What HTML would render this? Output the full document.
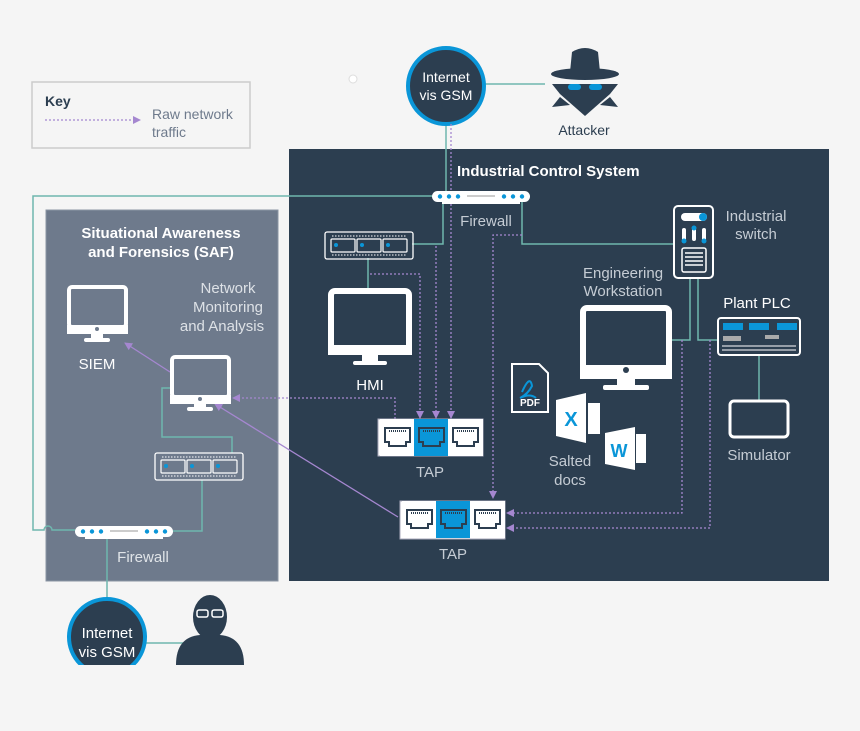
<!DOCTYPE html>
<html><head><meta charset="utf-8"><style>
html,body{margin:0;padding:0;background:#f5f5f5}
svg{display:block}
text{font-family:"Liberation Sans",sans-serif}
</style></head><body>
<svg width="860" height="731" viewBox="0 0 860 731" xmlns="http://www.w3.org/2000/svg">
<defs>
<marker id="ar" markerWidth="8" markerHeight="8" refX="7" refY="4" orient="auto" markerUnits="userSpaceOnUse">
<path d="M0,0 L8,4 L0,8 z" fill="#a587d0"/></marker>
<g id="sw">
<rect x="0" y="0" width="88" height="27" rx="2" fill="none" stroke="#fff" stroke-width="1.3"/>
<g fill="none" stroke="#fff" stroke-width="1.2">
<rect x="6" y="7" width="24" height="13" rx="1"/><rect x="32" y="7" width="24" height="13" rx="1"/><rect x="58" y="7" width="24" height="13" rx="1"/></g>
<g fill="#0a96d8"><circle cx="11" cy="13" r="2"/><circle cx="37" cy="13" r="2"/><circle cx="63" cy="13" r="2"/></g>
<g stroke="#fff" stroke-width="1" stroke-dasharray="1.5 1.5"><line x1="7" y1="4" x2="82" y2="4"/><line x1="7" y1="23" x2="82" y2="23"/></g>
</g>
<g id="fw">
<rect x="0" y="0" width="98" height="11" rx="5.5" fill="#fff"/>
<rect x="10" y="11" width="78" height="2" fill="#fff"/>
<g fill="#0a96d8"><circle cx="8" cy="5.5" r="2.2"/><circle cx="17" cy="5.5" r="2.2"/><circle cx="26" cy="5.5" r="2.2"/><circle cx="72" cy="5.5" r="2.2"/><circle cx="81" cy="5.5" r="2.2"/><circle cx="90" cy="5.5" r="2.2"/></g>
<line x1="35" y1="5" x2="63" y2="5" stroke="#bbb" stroke-width="1.5"/>
</g>
<g id="rj">
<rect x="0" y="0" width="35" height="37" fill="#fff"/>
<path d="M5,9 h25 v14 h-4 v4 h-17 v-4 h-4 z" fill="none" stroke="#2c3e50" stroke-width="2"/>
<line x1="9" y1="12" x2="26" y2="12" stroke="#2c3e50" stroke-width="2" stroke-dasharray="1 1"/>
</g>
<g id="rjb">
<rect x="0" y="0" width="35" height="37" fill="#0a96d8"/>
<path d="M5,9 h25 v14 h-4 v4 h-17 v-4 h-4 z" fill="none" stroke="#2c3e50" stroke-width="2"/>
<line x1="9" y1="12" x2="26" y2="12" stroke="#2c3e50" stroke-width="2" stroke-dasharray="1 1"/>
</g>
</defs>
<rect width="860" height="731" fill="#f5f5f5"/>

<!-- Key -->
<rect x="32" y="82" width="218" height="66" fill="none" stroke="#ccc" stroke-width="1.5"/>
<text x="45" y="106" font-size="14" font-weight="bold" fill="#2c3e50">Key</text>
<line x1="45" y1="120" x2="140" y2="120" stroke="#a587d0" stroke-width="1.3" stroke-dasharray="2 2" marker-end="url(#ar)"/>
<text x="152" y="119" font-size="14" fill="#6e7a8c">Raw network</text>
<text x="152" y="137" font-size="14" fill="#6e7a8c">traffic</text>
<circle cx="353" cy="79" r="4" fill="#fff" stroke="#ddd"/>

<!-- panels -->
<rect x="289" y="149" width="540" height="432" fill="#2c3e50"/>
<rect x="46" y="210" width="232" height="371" fill="#6e7a8c" stroke="#8a95a4"/>

<!-- top internet -->
<line x1="484" y1="84" x2="545" y2="84" stroke="#6fb7ae" stroke-width="1.5"/>
<line x1="446" y1="124" x2="446" y2="196" stroke="#6fb7ae" stroke-width="1.5"/>
<circle cx="446" cy="86" r="38" fill="#2c3e50" stroke="#0a96d8" stroke-width="4"/>
<text x="446" y="82" font-size="14" fill="#fff" text-anchor="middle">Internet</text>
<text x="446" y="100" font-size="14" fill="#fff" text-anchor="middle">vis GSM</text>
<!-- attacker -->
<g fill="#2c3e50">
<path d="M572,52 q13,-8 26,0 l2,20 h-30 z"/>
<ellipse cx="585" cy="74" rx="34" ry="6"/>
<path d="M552,84 h66 l-8,10 l-25,22 l-25,-22 z"/>
<path d="M560,97 l-8,10 l18,-2 z M610,97 l8,10 l-18,-2 z"/>
</g>
<g fill="#0a96d8"><rect x="568" y="84" width="13" height="6" rx="3"/><rect x="589" y="84" width="13" height="6" rx="3"/></g>
<text x="584" y="135" font-size="14" fill="#2c3e50" text-anchor="middle">Attacker</text>

<!-- ICS title -->
<text x="457" y="176" font-size="15" font-weight="bold" fill="#fff">Industrial Control System</text>

<!-- teal lines -->
<g stroke="#6fb7ae" stroke-width="1.5" fill="none">
<path d="M432,196 H33 V530 H44 a4,4 0 0 1 8,0 H75"/>
<path d="M443,200 V244 H412"/>
<path d="M368,258 V288"/>
<path d="M522,200 V244 H674"/>
<path d="M672,340 H690 V278"/>
<path d="M698,278 V340 H718"/>
<path d="M759,355 V400"/>
<path d="M170,388 H162 V437 H232 V453"/>
<path d="M202,480 V531 H173"/>
<path d="M107,537 V600"/>
<path d="M145,643 H185"/>
</g>

<!-- purple dashed -->
<g stroke="#a587d0" stroke-width="1.3" fill="none" stroke-dasharray="2 2">
<path d="M451,124 V418" marker-end="url(#ar)"/>
<path d="M436,246 V418" marker-end="url(#ar)"/>
<path d="M370,274 H420 V418" marker-end="url(#ar)"/>
<path d="M522,235 H493 V498" marker-end="url(#ar)"/>
<path d="M682,340 V513 H507" marker-end="url(#ar)"/>
<path d="M710,340 V528 H507" marker-end="url(#ar)"/>
<path d="M395,419 V398 H233" marker-end="url(#ar)"/>
</g>
<g stroke="#a587d0" stroke-width="1.3" fill="none">
<path d="M398,517 L215,404" marker-end="url(#ar)"/>
<path d="M170,372 L125,343" marker-end="url(#ar)"/>
</g>

<!-- firewalls & switches -->
<use href="#fw" x="432" y="191"/>
<text x="486" y="226" font-size="15" fill="#c5ccd4" text-anchor="middle">Firewall</text>
<use href="#sw" x="325" y="232"/>
<use href="#sw" x="155" y="453"/>
<use href="#fw" x="75" y="526"/>
<text x="143" y="562" font-size="15" fill="#e0e4e8" text-anchor="middle">Firewall</text>

<!-- HMI -->
<rect x="331" y="291" width="78" height="58" rx="4" fill="none" stroke="#fff" stroke-width="6"/>
<rect x="328" y="345" width="84" height="10" fill="#fff"/>
<rect x="362" y="354" width="16" height="8" fill="#fff"/><rect x="353" y="361" width="34" height="4" rx="2" fill="#fff"/>
<text x="370" y="390" font-size="15" fill="#fff" text-anchor="middle">HMI</text>

<!-- TAPs -->
<rect x="378" y="419" width="105" height="37" fill="#fff" stroke="#aab" stroke-width="1"/>
<use href="#rj" x="380" y="419"/><use href="#rjb" x="414" y="419"/><use href="#rj" x="448" y="419"/>
<text x="430" y="477" font-size="15" fill="#c5ccd4" text-anchor="middle">TAP</text>
<rect x="400" y="501" width="105" height="38" fill="#fff" stroke="#aab" stroke-width="1"/>
<use href="#rj" x="402" y="501"/><use href="#rjb" x="436" y="501"/><use href="#rj" x="470" y="501"/>
<text x="453" y="559" font-size="15" fill="#c5ccd4" text-anchor="middle">TAP</text>

<!-- Engineering workstation -->
<text x="623" y="278" font-size="15" fill="#c5ccd4" text-anchor="middle">Engineering</text>
<text x="623" y="296" font-size="15" fill="#c5ccd4" text-anchor="middle">Workstation</text>
<rect x="583" y="308" width="86" height="62" rx="4" fill="none" stroke="#fff" stroke-width="6"/>
<rect x="580" y="365" width="92" height="14" fill="#fff"/>
<circle cx="626" cy="370" r="3" fill="#2c3e50"/>
<rect x="617" y="378" width="18" height="8" fill="#fff"/><rect x="603" y="385" width="46" height="5" rx="2" fill="#fff"/>

<!-- Industrial switch -->
<rect x="674" y="206" width="39" height="72" rx="4" fill="none" stroke="#fff" stroke-width="2"/>
<rect x="681" y="213" width="26" height="8" rx="4" fill="#fff"/><circle cx="703" cy="217" r="4" fill="#0a96d8"/>
<g fill="#fff"><rect x="682" y="228" width="4" height="13" rx="2"/><rect x="692" y="227" width="4" height="14" rx="2"/><rect x="702" y="228" width="4" height="13" rx="2"/></g>
<g fill="#0a96d8"><circle cx="684" cy="241" r="2.5"/><circle cx="694" cy="228" r="2.5"/><circle cx="704" cy="241" r="2.5"/></g>
<rect x="682" y="248" width="24" height="24" rx="2" fill="none" stroke="#fff" stroke-width="1.5"/>
<g stroke="#fff" stroke-width="1.5"><line x1="685" y1="253" x2="703" y2="253"/><line x1="685" y1="257" x2="703" y2="257"/><line x1="685" y1="261" x2="703" y2="261"/><line x1="685" y1="265" x2="703" y2="265"/></g>
<text x="756" y="221" font-size="15" fill="#c5ccd4" text-anchor="middle">Industrial</text>
<text x="756" y="239" font-size="15" fill="#c5ccd4" text-anchor="middle">switch</text>

<!-- PLC -->
<text x="757" y="308" font-size="15" fill="#fff" text-anchor="middle">Plant PLC</text>
<rect x="718" y="318" width="82" height="37" rx="3" fill="none" stroke="#fff" stroke-width="2"/>
<g fill="#0a96d8"><rect x="723" y="323" width="20" height="7"/><rect x="749" y="323" width="20" height="7"/><rect x="777" y="323" width="20" height="7"/></g>
<g fill="#aaa"><rect x="723" y="336" width="18" height="5"/><rect x="765" y="335" width="14" height="4"/></g>
<g stroke="#fff" stroke-width="1"><line x1="722" y1="346" x2="796" y2="346"/><line x1="722" y1="350" x2="796" y2="350"/></g>

<!-- Simulator -->
<rect x="730" y="401" width="58" height="36" rx="4" fill="none" stroke="#fff" stroke-width="3"/>
<text x="759" y="460" font-size="15" fill="#c5ccd4" text-anchor="middle">Simulator</text>

<!-- docs -->
<path d="M512,364 h27 l9,9 v39 h-36 z" fill="#2c3e50" stroke="#fff" stroke-width="2"/>
<path d="M522,392 q8,-18 10,-6 q-4,8 -12,12 q10,-5 16,0" fill="none" stroke="#0a96d8" stroke-width="2"/>
<text x="530" y="406" font-size="10" font-weight="bold" fill="#fff" text-anchor="middle">PDF</text>
<path d="M556,400 l30,-7 v50 l-30,-7 z" fill="#fff"/><rect x="588" y="403" width="12" height="31" fill="#fff"/>
<text x="571" y="426" font-size="20" font-weight="bold" fill="#0a96d8" text-anchor="middle">X</text>
<path d="M605,433 l30,-6 v43 l-30,-6 z" fill="#fff"/><rect x="636" y="434" width="10" height="29" fill="#fff"/>
<text x="619" y="457" font-size="18" font-weight="bold" fill="#0a96d8" text-anchor="middle">W</text>
<text x="570" y="466" font-size="15" fill="#c5ccd4" text-anchor="middle">Salted</text>
<text x="570" y="485" font-size="15" fill="#c5ccd4" text-anchor="middle">docs</text>

<!-- SAF -->
<text x="161" y="238" font-size="15" font-weight="bold" fill="#fff" text-anchor="middle">Situational Awareness</text>
<text x="161" y="257" font-size="15" font-weight="bold" fill="#fff" text-anchor="middle">and Forensics (SAF)</text>
<text x="228" y="293" font-size="15" fill="#dde1e6" text-anchor="middle">Network</text>
<text x="228" y="312" font-size="15" fill="#dde1e6" text-anchor="middle">Monitoring</text>
<text x="222" y="331" font-size="15" fill="#dde1e6" text-anchor="middle">and Analysis</text>
<!-- SIEM -->
<rect x="69" y="287" width="57" height="40" rx="3" fill="none" stroke="#fff" stroke-width="4"/>
<rect x="67" y="325" width="61" height="9" fill="#fff"/><circle cx="97" cy="329" r="2" fill="#6e7a8c"/>
<rect x="91" y="333" width="12" height="6" fill="#fff"/><rect x="84" y="338" width="26" height="4" rx="2" fill="#fff"/>
<text x="97" y="369" font-size="15" fill="#fff" text-anchor="middle">SIEM</text>
<!-- NMA -->
<rect x="172" y="357" width="57" height="40" rx="3" fill="none" stroke="#fff" stroke-width="4"/>
<rect x="170" y="395" width="61" height="9" fill="#fff"/><circle cx="200" cy="399" r="2" fill="#6e7a8c"/>
<rect x="194" y="403" width="12" height="5" fill="#fff"/><rect x="187" y="407" width="26" height="4" rx="2" fill="#fff"/>

<!-- bottom internet & user -->
<circle cx="107" cy="637" r="38" fill="#2c3e50" stroke="#0a96d8" stroke-width="4"/>
<text x="107" y="638" font-size="15" fill="#fff" text-anchor="middle">Internet</text>
<text x="107" y="657" font-size="15" fill="#fff" text-anchor="middle">vis GSM</text>
<g fill="#2c3e50">
<ellipse cx="210" cy="617" rx="17" ry="22"/>
<path d="M176,665 q0,-28 24,-30 h20 q24,2 24,30 z"/>
</g>
<g fill="none" stroke="#fff" stroke-width="1.5"><rect x="197" y="610" width="11" height="7" rx="2"/><rect x="212" y="610" width="11" height="7" rx="2"/></g>
<rect x="0" y="665" width="860" height="66" fill="#f5f5f5"/>
</svg>
</body></html>
